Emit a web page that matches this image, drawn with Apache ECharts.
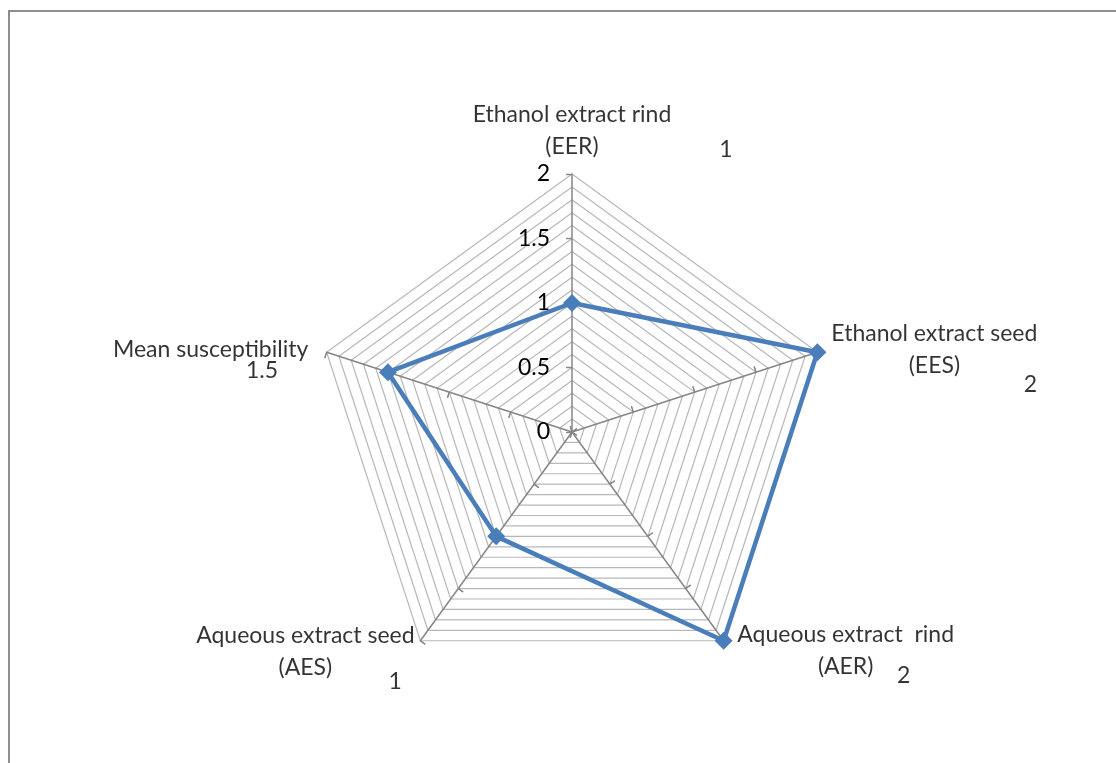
<!DOCTYPE html>
<html><head><meta charset="utf-8">
<script src="https://cdn.jsdelivr.net/npm/echarts@6/dist/echarts.min.js"></script>
<style>
html,body{margin:0;padding:0;background:#fff;overflow:hidden;}
#frame{position:absolute;left:8px;top:10px;width:1200px;height:800px;border-left:2px solid #8e8e8e;border-top:2px solid #8e8e8e;}
#chart{position:absolute;left:0;top:0;width:1116px;height:763px;}
</style></head><body>
<div id="frame"></div><div id="chart"></div>
<script>
// Indicators listed in the order ECharts lays them out (counter-clockwise from top)
const categories = ['Ethanol extract rind\n(EER)', 'Mean susceptibility', 'Aqueous extract seed\n(AES)', 'Aqueous extract  rind\n(AER)', 'Ethanol extract seed\n(EES)'];
const values = [1, 1.5, 1, 2, 2];
const axisMin = 0;
const axisMax = 2;
const tickInterval = 0.5;
const gridStep = 0.1;

// label styling (offsets in px)
const nameOffsets = [[0, -43], [-116, -3], [-115, 11], [122, 10], [117, -3]];
const valueOffsets = [[154, -153], [-126, -2], [-101, 145], [180, 35], [213, 32]];

const FONT = 'Lato';
const FS = 23;
const CENTER = [572, 432];
const RADIUS = 258;

const indicator = categories.map(n => ({ name: n, min: axisMin, max: axisMax }));

const chart = echarts.init(document.getElementById('chart'));
chart.setOption({
  animation: false,
  textStyle: { fontFamily: FONT },
  radar: [
    {
      center: CENTER, radius: RADIUS, startAngle: 90,
      indicator: indicator,
      splitNumber: Math.round((axisMax - axisMin) / gridStep),
      shape: 'polygon',
      axisName: { show: false },
      axisLine: { lineStyle: { color: '#868686', width: 1.5 } },
      splitLine: { lineStyle: { color: '#b8b8b8', width: 1.2 } },
      splitArea: { show: false },
      axisTick: { show: false },
      axisLabel: { show: false }
    },
    {
      center: CENTER, radius: RADIUS, startAngle: 90,
      indicator: indicator,
      splitNumber: Math.round((axisMax - axisMin) / tickInterval),
      shape: 'polygon',
      axisName: { show: false },
      axisLine: { show: false },
      splitLine: { show: false },
      splitArea: { show: false },
      axisTick: { show: true, length: 6, inside: false, lineStyle: { color: '#868686', width: 1.2 } },
      axisLabel: { show: false }
    },
    {
      center: CENTER, radius: RADIUS, startAngle: 90,
      indicator: indicator,
      splitNumber: Math.round((axisMax - axisMin) / tickInterval),
      shape: 'polygon',
      axisName: { show: false },
      axisLine: { show: false },
      splitLine: { show: false },
      splitArea: { show: false },
      axisTick: { show: true, length: 6, inside: true, lineStyle: { color: '#868686', width: 1.2 } },
      axisLabel: { show: false }
    }
  ],
  polar: { center: CENTER, radius: RADIUS },
  angleAxis: {
    type: 'category', data: categories, boundaryGap: false, startAngle: 90, clockwise: false,
    axisLine: { show: false }, axisTick: { show: false }, axisLabel: { show: false }, splitLine: { show: false }
  },
  radiusAxis: {
    type: 'value', min: axisMin, max: axisMax, interval: tickInterval,
    axisLine: { show: false }, axisTick: { show: false }, splitLine: { show: false },
    axisLabel: { show: true, color: '#000', fontSize: FS, fontFamily: FONT, margin: 22 }
  },
  series: [
    {
      type: 'radar', radarIndex: 0, z: 5,
      symbol: 'diamond', symbolSize: 18,
      lineStyle: { color: '#4a7ebb', width: 4.5 },
      itemStyle: { color: '#4a7ebb' },
      data: [{ value: values }]
    },
    {
      type: 'scatter', coordinateSystem: 'polar', symbolSize: 0, z: 6, silent: true,
      data: categories.map((c, i) => ({
        value: [axisMax, i],
        label: { show: true, formatter: c, offset: nameOffsets[i], position: 'inside', align: 'center', verticalAlign: 'middle',
                 color: '#000', fontSize: FS, lineHeight: 32, fontFamily: FONT }
      }))
    },
    {
      type: 'scatter', coordinateSystem: 'polar', symbolSize: 0, z: 6, silent: true,
      data: values.map((v, i) => ({
        value: [v, i],
        label: { show: true, formatter: String(v), offset: valueOffsets[i], position: 'inside', align: 'center', verticalAlign: 'middle',
                 color: '#000', fontSize: FS, fontFamily: FONT }
      }))
    }
  ]
});
</script>
</body></html>
